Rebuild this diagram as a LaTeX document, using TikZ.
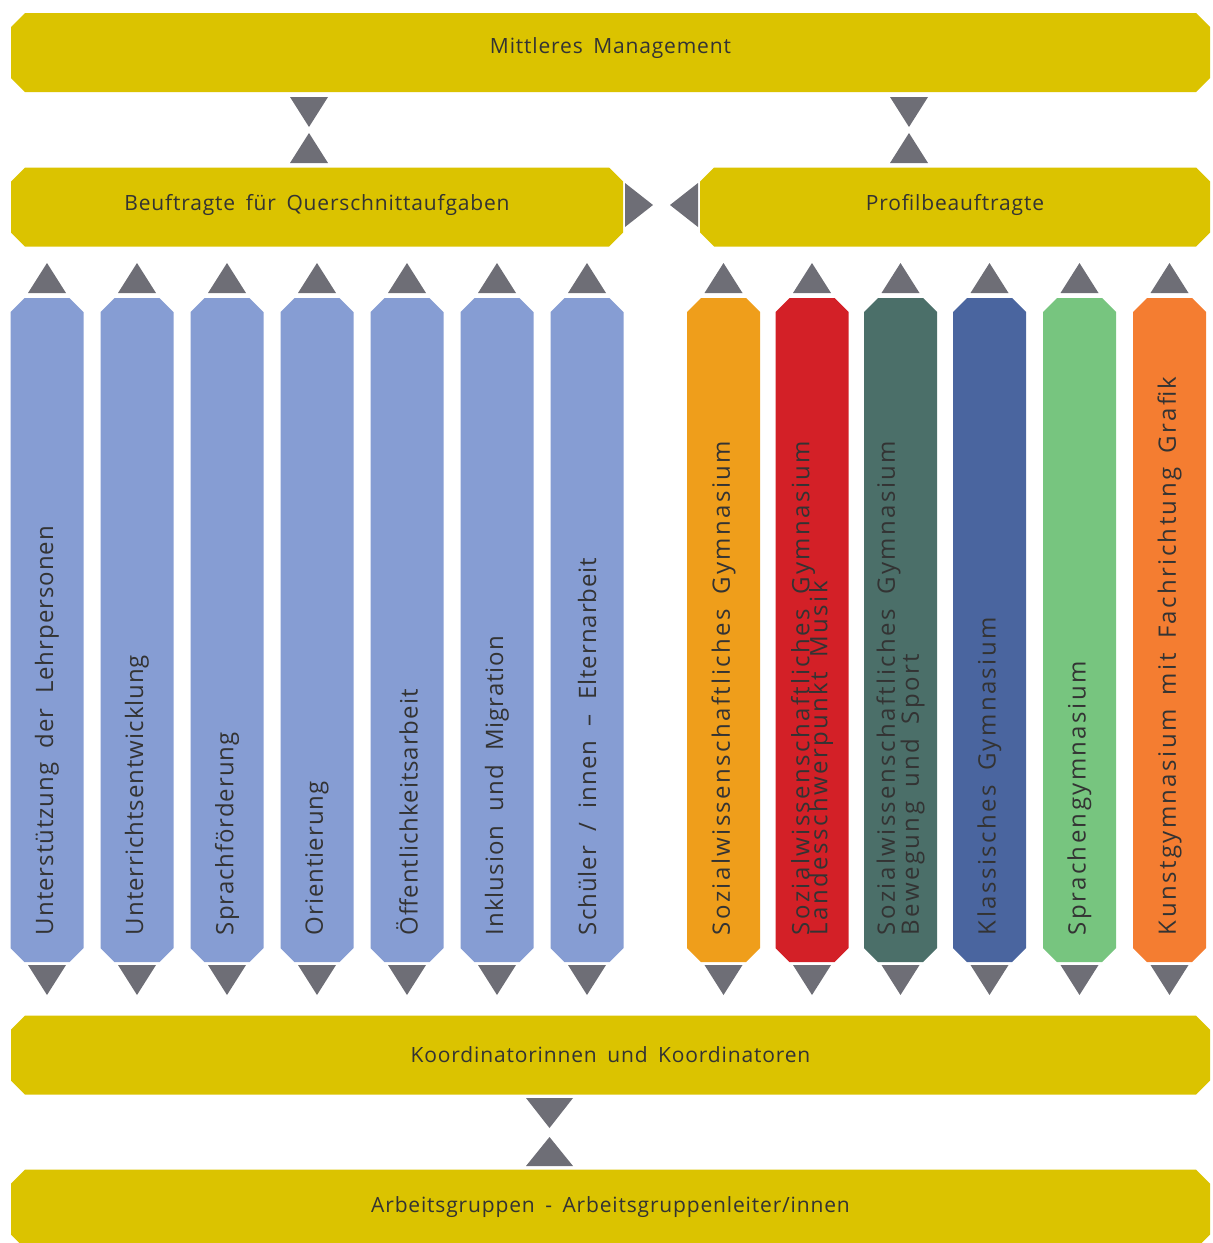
\documentclass[tikz,border=0pt]{standalone}
\usepackage{fontspec}
\setmainfont{Open Sans}[LetterSpace=4]
\usetikzlibrary{shapes.misc}
\definecolor{barY}{HTML}{DBC300}
\definecolor{triG}{HTML}{6E6E76}
\definecolor{colB}{HTML}{869DD3}
\definecolor{colO}{HTML}{EF9E1B}
\definecolor{colR}{HTML}{D32027}
\definecolor{colT}{HTML}{4B6F69}
\definecolor{colD}{HTML}{4A659F}
\definecolor{colG}{HTML}{77C57F}
\definecolor{colK}{HTML}{F47D31}
\definecolor{txtK}{HTML}{333333}
% fonts with wide word spaces
\newcommand\barfont{\fontsize{21}{25}\selectfont\setlength\spaceskip{.5em}}
\newcommand\colfont{\fontsize{24}{24}\selectfont}
\newcommand\colspace{\setlength\spaceskip{.6em}}
% triangles: x, y of base, half width
\newcommand\triup[3]{\fill[triG] (#1-#3,#2) -- (#1+#3,#2) -- (#1,#2-30) -- cycle;}
\newcommand\tridown[3]{\fill[triG] (#1-#3,#2) -- (#1+#3,#2) -- (#1,#2+30) -- cycle;}

\begin{document}
\begin{tikzpicture}[x=1pt, y=-1pt,
  bar/.style={chamfered rectangle, chamfered rectangle xsep=7pt,
    chamfered rectangle ysep=7pt, fill=barY, inner sep=0pt,
    minimum height=79pt, text=txtK, font=\barfont},
  col/.style={chamfered rectangle, chamfered rectangle xsep=7pt,
    chamfered rectangle ysep=7pt, rotate=90, inner xsep=20pt,
    inner ysep=0pt, minimum width=664pt, minimum height=73pt,
    text width=610pt, align=left, text=txtK, font=\colfont,
    execute at begin node=\colspace},
  wide/.style={font=\colfont\addfontfeature{LetterSpace=10}}]
  \useasboundingbox (0,0) rectangle (1213,1243);
  \begin{scope}
  \clip (0,0) rectangle (1213,1243);
  % yellow bars
  \node[bar, minimum width=1199pt, text depth=14pt] (mm) at (610.5,52.5) {Mittleres Management};
  \node[bar, minimum width=612pt, text depth=9pt] (bq) at (317,207) {Beuftragte für Querschnittaufgaben};
  \node[bar, minimum width=510pt, text depth=9pt] (pb) at (955,207) {Profilbeauftragte};
  \node[bar, minimum width=1199pt] (ko) at (610.5,1055) {Koordinatorinnen und Koordinatoren};
  \node[bar, minimum width=1199pt, text depth=8pt] (ag) at (610.5,1209) {Arbeitsgruppen - Arbeitsgruppenleiter/innen};
  % columns
  \foreach \i/\x/\lab in {1/47/{Unterstützung der Lehrpersonen},
      2/137/Unterrichtsentwicklung, 3/227/Sprachförderung, 4/317/Orientierung,
      5/407/Öffentlichkeitsarbeit, 6/497/{Inklusion und Migration},
      7/587/{Schüler / innen – Elternarbeit}}{
    \node[col, fill=colB] (q\i) at (\x,630) {\lab};
    \triup{\x}{293}{19}
    \tridown{\x}{965}{19}
  }
  \foreach \i/\x/\c/\lab in {1/723.5/colO/{Sozialwissenschaftliches Gymnasium},
      2/812/colR/{Sozialwissenschaftliches Gymnasium\\[-6pt]Landesschwerpunkt Musik},
      3/900.5/colT/{Sozialwissenschaftliches Gymnasium\\Bewegung und Sport},
      4/989.5/colD/{Klassisches Gymnasium}, 5/1079.5/colG/Sprachengymnasium,
      6/1169.5/colK/{Kunstgymnasium mit Fachrichtung Grafik}}{
    \node[col, wide, fill=\c] (p\i) at (\x,630) {\lab};
    \triup{\x}{293}{19}
    \tridown{\x}{965}{19}
  }
  % links between bars
  \tridown{309}{97}{19}
  \triup{309}{163}{19}
  \tridown{909}{97}{19}
  \triup{909}{163}{19}
  \fill[triG] (625,183) -- (653,205) -- (625,227) -- cycle;
  \fill[triG] (698,183) -- (670,205) -- (698,227) -- cycle;
  \fill[triG] (526,1098) -- (573,1098) -- (549.5,1128) -- cycle;
  \fill[triG] (526,1166) -- (573,1166) -- (549.5,1137) -- cycle;
  \end{scope}
\end{tikzpicture}
\end{document}
